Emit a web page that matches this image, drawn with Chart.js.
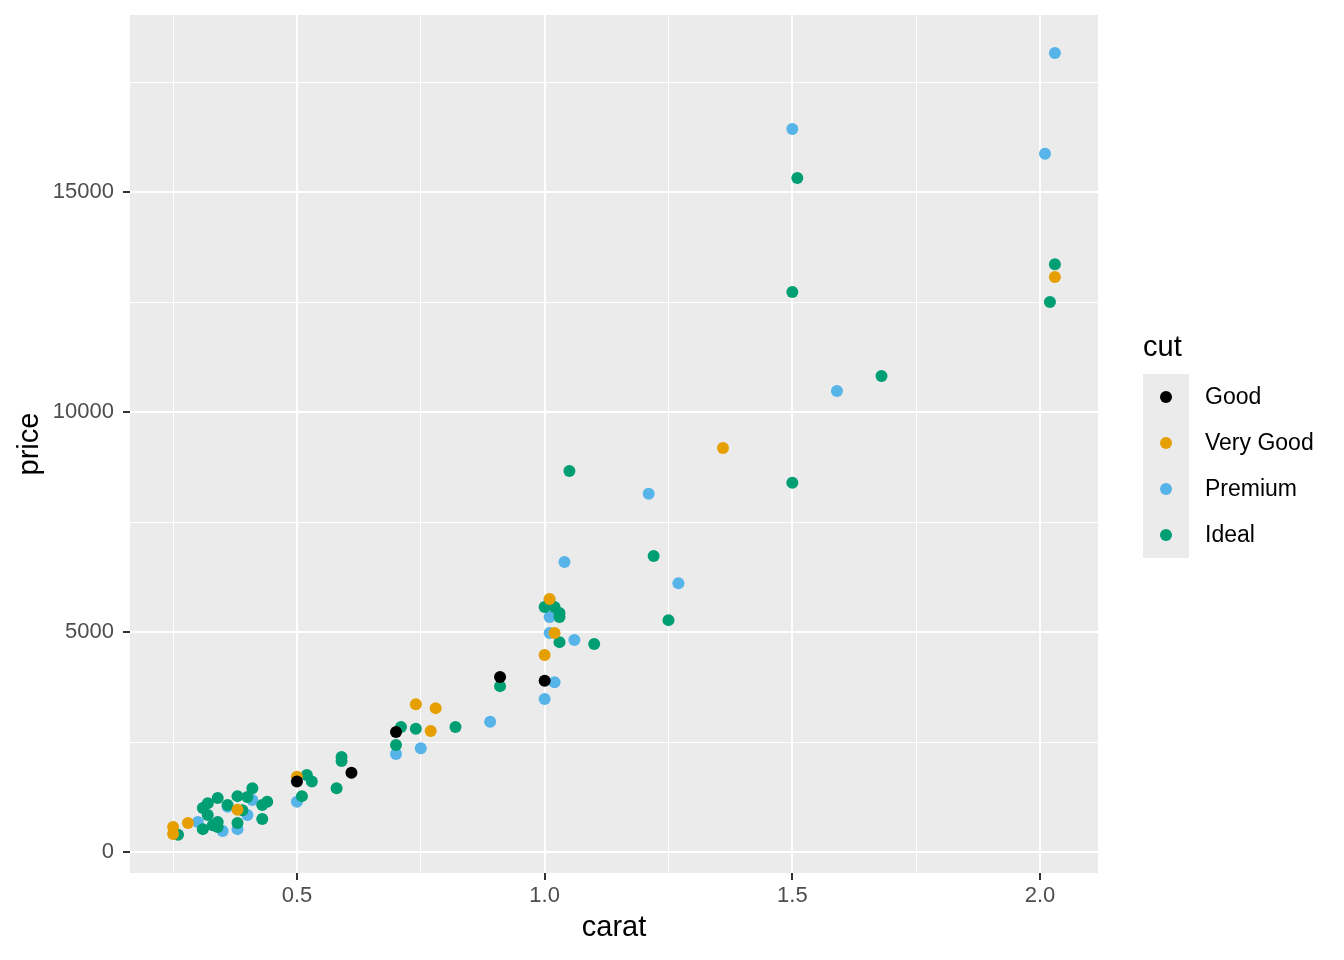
<!DOCTYPE html>
<html>
<head>
<meta charset="utf-8">
<script src="https://cdn.jsdelivr.net/npm/chart.js@4.4.1/dist/chart.umd.min.js"></script>
<style>
  html, body { margin: 0; padding: 0; background: #fff; }
</style>
</head>
<body>
<canvas id="myChart" width="1344" height="960"></canvas>
<script>
// cut categories and their colours
const cuts = ["Good", "Very Good", "Premium", "Ideal"];
const cutColors = ["#000000", "#E69F00", "#56B4E9", "#009E73"];

// series values (carat, price) per cut
const goodCarat = [1.00, 0.91, 0.70, 0.61, 0.50];
const goodPrice = [3890, 3980, 2730, 1800, 1600];

const veryGoodCarat = [2.03, 1.36, 1.01, 1.02, 1.00, 0.74, 0.78, 0.77, 0.50, 0.38, 0.28, 0.25, 0.25];
const veryGoodPrice = [13070, 9180, 5750, 4980, 4480, 3360, 3270, 2750, 1710, 960, 660, 570, 410];

const premiumCarat = [2.03, 1.50, 2.01, 1.59, 1.21, 1.04, 1.27, 1.01, 1.01, 1.01, 1.06, 1.02, 1.00,
  0.89, 0.75, 0.70, 0.50, 0.38, 0.35, 0.30, 0.36, 0.40, 0.41];
const premiumPrice = [18160, 16430, 15870, 10480, 8140, 6590, 6110, 5730, 5340, 4980, 4820, 3860, 3480,
  2960, 2360, 2230, 1140, 520, 480, 680, 1030, 840, 1180];

const idealCarat = [2.03, 2.02, 1.51, 1.50, 1.68, 1.50, 1.05, 1.22, 1.25, 1.00, 1.02, 1.03, 1.03, 1.03,
  1.10, 0.91, 0.71, 0.74, 0.82, 0.70, 0.59, 0.59, 0.58, 0.52, 0.53, 0.51, 0.26, 0.31, 0.32, 0.34, 0.32,
  0.33, 0.31, 0.34, 0.34, 0.38, 0.41, 0.40, 0.44, 0.43, 0.43, 0.38, 0.36, 0.39];
const idealPrice = [13360, 12500, 15320, 12730, 10820, 8390, 8660, 6730, 5270, 5570, 5570, 5430, 5340, 4770,
  4730, 3770, 2840, 2800, 2840, 2430, 2160, 2070, 1450, 1750, 1600, 1270, 390, 1000, 1110, 1230, 840,
  610, 520, 680, 570, 1270, 1450, 1250, 1140, 1070, 750, 660, 1070, 950];

// tick values (major get labels, minor only grid lines)
const xMajor = [0.5, 1.0, 1.5, 2.0];
const xMinor = [0.25, 0.75, 1.25, 1.75];
const yMajor = [0, 5000, 10000, 15000];
const yMinor = [2500, 7500, 12500, 17500];

const carats = [goodCarat, veryGoodCarat, premiumCarat, idealCarat];
const prices = [goodPrice, veryGoodPrice, premiumPrice, idealPrice];
const drawOrder = [0, 1, 3, 2];

const toPoints = (xs, ys) => xs.map((x, i) => ({ x: x, y: ys[i] }));

const datasets = cuts.map((name, i) => ({
  label: name,
  data: toPoints(carats[i], prices[i]),
  backgroundColor: cutColors[i],
  borderWidth: 0,
  pointRadius: 6,
  pointHoverRadius: 6,
  order: drawOrder[i]
}));

const isMajor = (list, v) => list.some(m => Math.abs(m - v) < 1e-9);

const panelBg = {
  id: "panelBg",
  beforeDraw(chart) {
    const { ctx, chartArea: a } = chart;
    ctx.save();
    ctx.fillStyle = "#EBEBEB";
    ctx.fillRect(a.left, a.top, a.right - a.left, a.bottom - a.top);
    ctx.restore();
  }
};

// ggplot style legend on the right
const sideLegend = {
  id: "sideLegend",
  afterDraw(chart) {
    const ctx = chart.ctx;
    const x0 = 1143, top = 374, keyH = 46, keyW = 46;
    ctx.save();
    ctx.fillStyle = "#000";
    ctx.font = "29px 'Liberation Sans', Arial, sans-serif";
    ctx.textBaseline = "middle";
    ctx.textAlign = "left";
    ctx.fillText("cut", x0, 348);
    ctx.fillStyle = "#EBEBEB";
    ctx.fillRect(x0, top, keyW, keyH * cuts.length);
    ctx.font = "23px 'Liberation Sans', Arial, sans-serif";
    cuts.forEach((name, i) => {
      const cy = top + keyH * i + keyH / 2;
      ctx.beginPath();
      ctx.arc(x0 + keyW / 2, cy, 6, 0, Math.PI * 2);
      ctx.fillStyle = cutColors[i];
      ctx.fill();
      ctx.fillStyle = "#000";
      ctx.fillText(name, 1205, cy + 1);
    });
    ctx.restore();
  }
};

new Chart(document.getElementById("myChart"), {
  type: "scatter",
  data: { datasets: datasets },
  options: {
    responsive: false,
    animation: false,
    events: [],
    layout: { padding: { left: 0, top: 15, right: 246, bottom: 0 } },
    plugins: { legend: { display: false }, tooltip: { enabled: false } },
    scales: {
      x: {
        type: "linear",
        min: 0.163,
        max: 2.117,
        afterBuildTicks: s => { s.ticks = xMinor.concat(xMajor).sort((a, b) => a - b).map(v => ({ value: v })); },
        afterFit: s => { s.height = 87; s.paddingLeft = 0; s.paddingRight = 0; },
        border: { display: false },
        grid: {
          color: "#FFFFFF",
          lineWidth: c => isMajor(xMajor, c.tick.value) ? 2 : 1,
          tickColor: c => isMajor(xMajor, c.tick.value) ? "#333333" : "rgba(0,0,0,0)",
          tickWidth: 2,
          tickLength: 7
        },
        ticks: {
          autoSkip: false,
          maxRotation: 0,
          padding: 3,
          color: "#4D4D4D",
          font: { family: "'Liberation Sans', Arial, sans-serif", size: 22 },
          callback: v => isMajor(xMajor, v) ? v.toFixed(1) : ""
        },
        title: {
          display: true,
          text: "carat",
          color: "#000",
          font: { family: "'Liberation Sans', Arial, sans-serif", size: 29 },
          padding: { top: 0, bottom: 15 }
        }
      },
      y: {
        type: "linear",
        min: -477,
        max: 19023,
        afterBuildTicks: s => { s.ticks = yMinor.concat(yMajor).sort((a, b) => a - b).map(v => ({ value: v })); },
        afterFit: s => { s.width = 130; s.paddingTop = 0; s.paddingBottom = 0; },
        border: { display: false },
        grid: {
          color: "#FFFFFF",
          lineWidth: c => isMajor(yMajor, c.tick.value) ? 2 : 1,
          tickColor: c => isMajor(yMajor, c.tick.value) ? "#333333" : "rgba(0,0,0,0)",
          tickWidth: 2,
          tickLength: 7
        },
        ticks: {
          autoSkip: false,
          padding: 9,
          color: "#4D4D4D",
          font: { family: "'Liberation Sans', Arial, sans-serif", size: 22 },
          callback: v => isMajor(yMajor, v) ? String(v) : ""
        },
        title: {
          display: true,
          text: "price",
          color: "#000",
          font: { family: "'Liberation Sans', Arial, sans-serif", size: 29 },
          padding: { top: 13, bottom: 0 }
        }
      }
    }
  },
  plugins: [panelBg, sideLegend]
});
</script>
</body>
</html>
